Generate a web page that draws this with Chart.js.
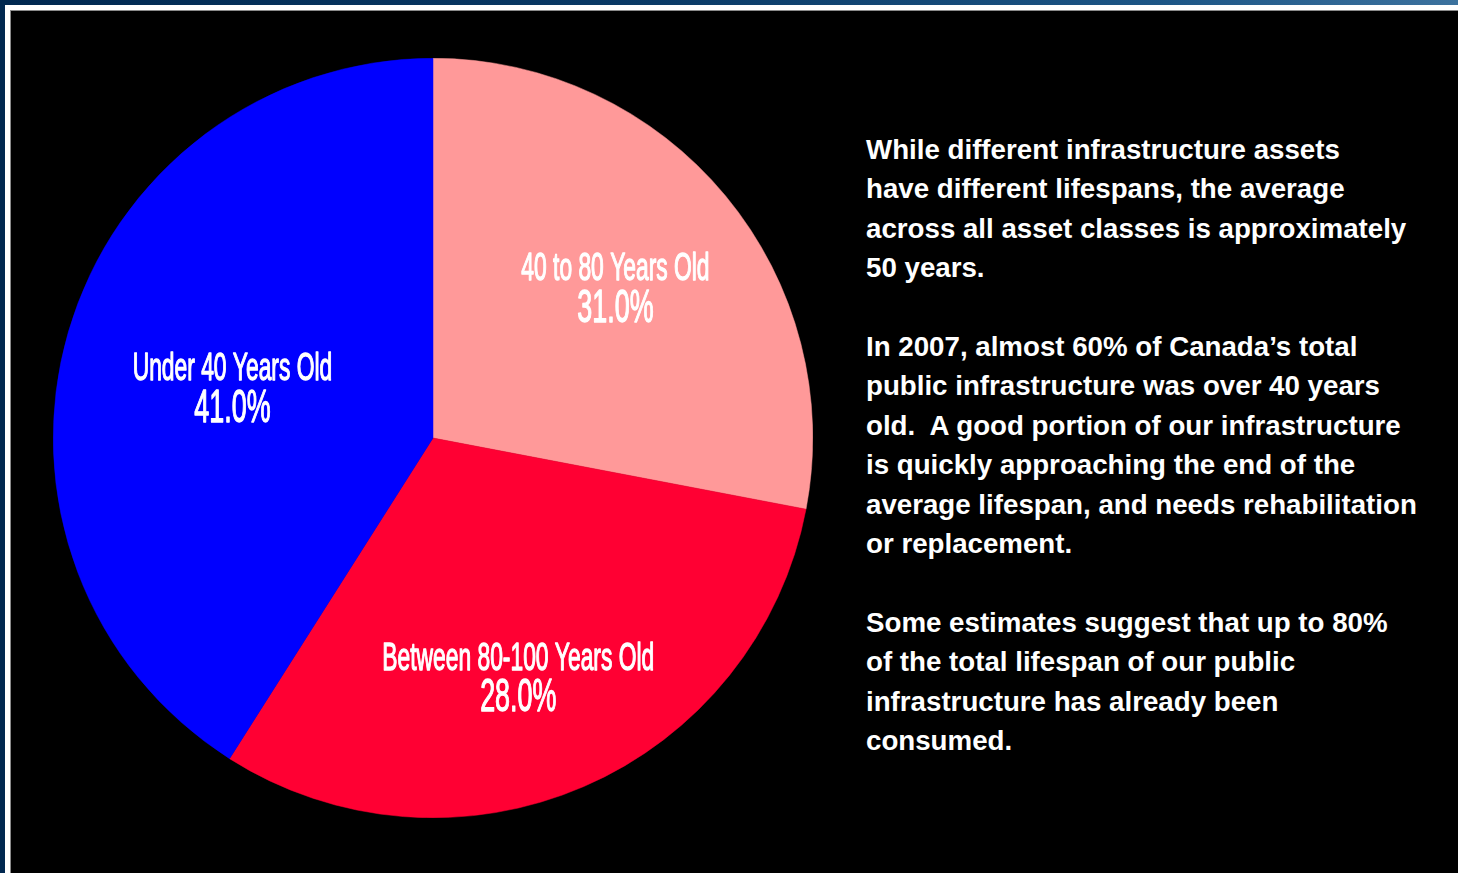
<!DOCTYPE html>
<html>
<head>
<meta charset="utf-8">
<script src="https://cdn.jsdelivr.net/npm/chart.js@4.4.1/dist/chart.umd.min.js"></script>
<style>
  html, body { margin:0; padding:0; width:1458px; height:873px; overflow:hidden; background:#000; }
  #topbar { position:absolute; left:0; top:0; width:1458px; height:5px;
    background:linear-gradient(to right, #002850 0%, #0a3a66 45%, #1d5686 80%, #3c729e 100%); }
  #leftbar { position:absolute; left:0; top:0; width:5px; height:873px; background:#002850; }
  #topwhite { position:absolute; left:5px; top:5px; width:1453px; height:5px; background:#fff; }
  #leftwhite { position:absolute; left:5px; top:5px; width:5px; height:868px; background:#fff; }
  #topgray { position:absolute; left:10px; top:10px; width:1448px; height:1px; background:#8a8a8a; }
  #leftgray { position:absolute; left:10px; top:10px; width:1px; height:863px; background:#8a8a8a; }
  #chartbox { position:absolute; left:53px; top:58px; width:760px; height:760px; }
  #note { position:absolute; left:866px; top:130px; color:#fff;
    font-family:"Liberation Sans", Arial, sans-serif; font-weight:bold; font-size:27.7px;
    line-height:39.4px; white-space:nowrap; }
</style>
</head>
<body>
<div id="topbar"></div><div id="leftbar"></div>
<div id="topwhite"></div><div id="leftwhite"></div>
<div id="topgray"></div><div id="leftgray"></div>
<div id="chartbox"><canvas id="c"></canvas></div>
<div id="note">While different infrastructure assets<br>have different lifespans, the average<br>across all asset classes is approximately<br>50 years.<br><br>In 2007, almost 60% of Canada’s total<br>public infrastructure was over 40 years<br>old.&nbsp; A good portion of our infrastructure<br>is quickly approaching the end of the<br>average lifespan, and needs rehabilitation<br>or replacement.<br><br>Some estimates suggest that up to 80%<br>of the total lifespan of our public<br>infrastructure has already been<br>consumed.</div>
<script>
const categories = ["40 to 80 Years Old", "Between 80-100 Years Old", "Under 40 Years Old"];
const sliceValues = [28, 31, 41];
const percentLabels = ["31.0%", "28.0%", "41.0%"];
const sliceColors = ["#ff9999", "#ff0033", "#0000ff"];

const labelPlugin = {
  id: 'sliceLabels',
  afterDatasetsDraw(chart, args, opts) {
    const ctx = chart.ctx;
    const meta = chart.getDatasetMeta(0);
    meta.data.forEach((arc, i) => {
      const p = arc.getProps(['x','y','startAngle','endAngle','outerRadius'], true);
      const mid = (p.startAngle + p.endAngle) / 2;
      const r = p.outerRadius * opts.radiusFactor[i];
      const cx = p.x + Math.cos(mid) * r + opts.shift[i][0];
      const cy = p.y + Math.sin(mid) * r + opts.shift[i][1];
      ctx.save();
      ctx.fillStyle = '#fff';
      ctx.strokeStyle = '#fff';
      ctx.lineWidth = 1.3;
      ctx.lineJoin = 'round';
      ctx.textAlign = 'center';
      ctx.textBaseline = 'middle';
      ctx.translate(cx, cy);
      ctx.scale(opts.squeeze, 1);
      ctx.font = '39px "Liberation Sans", Arial, sans-serif';
      ctx.fillText(categories[i], 0, -19);
      ctx.strokeText(categories[i], 0, -19);
      ctx.font = '46px "Liberation Sans", Arial, sans-serif';
      ctx.fillText(percentLabels[i], 0, 21);
      ctx.strokeText(percentLabels[i], 0, 21);
      ctx.restore();
    });
  }
};

new Chart(document.getElementById('c'), {
  type: 'pie',
  data: {
    labels: categories,
    datasets: [{
      data: sliceValues,
      backgroundColor: sliceColors,
      borderColor: sliceColors,
      borderWidth: 0.5
    }]
  },
  options: {
    responsive: true,
    maintainAspectRatio: false,
    animation: false,
    layout: { padding: 0 },
    plugins: {
      legend: { display: false },
      tooltip: { enabled: false },
      sliceLabels: { radiusFactor: [0.62, 0.665, 0.55], shift: [[1, 0], [-15, 8], [0, 9]], squeeze: 0.585 }
    }
  },
  plugins: [labelPlugin]
});
</script>
</body>
</html>
